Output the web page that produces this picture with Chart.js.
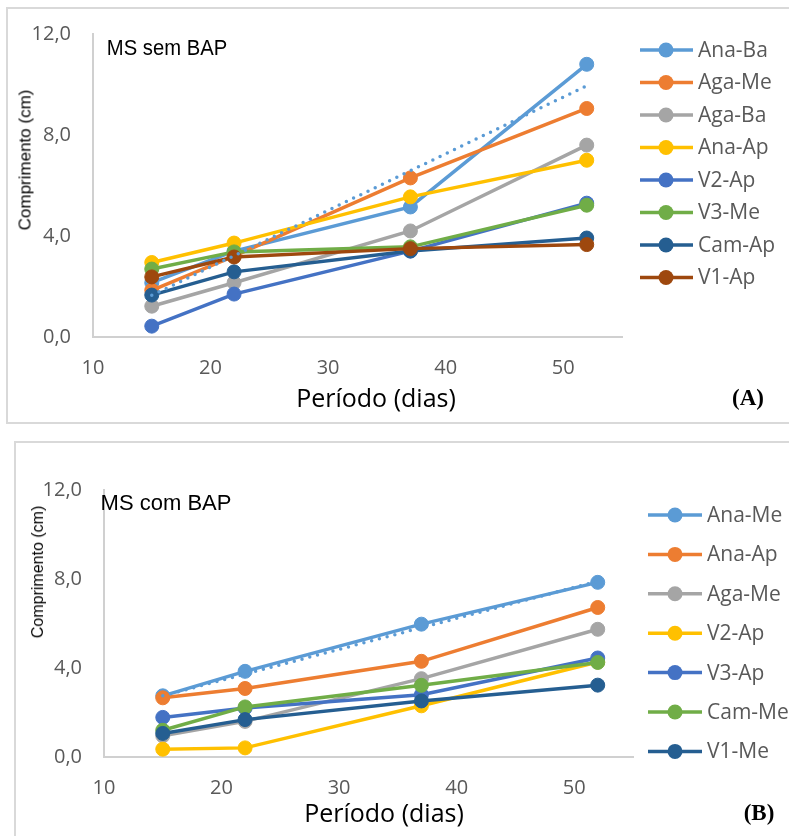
<!DOCTYPE html>
<html><head><meta charset="utf-8">
<script src="https://cdn.jsdelivr.net/npm/chart.js@4"></script>
<style>
html,body{margin:0;padding:0;background:#fff;width:789px;height:836px;overflow:hidden;position:relative}
.frame{position:absolute;border:2px solid #d9d9d9;box-sizing:border-box}
.cw{position:absolute;left:0}
.t{position:absolute;white-space:nowrap;transform:translate(-50%,-50%);line-height:1}
.ms{font-family:'Liberation Sans',Arial,sans-serif;font-size:22px;color:#000}
.xt{font-family:'Open Sans',sans-serif;font-size:25px;color:#000}
.yt{font-family:'Liberation Sans',Arial,sans-serif;color:#000}
.pl{font-family:'Liberation Serif','Times New Roman',serif;font-weight:bold;font-size:23px;color:#000}
</style></head><body>
<div class="frame" style="left:6px;top:7px;width:800px;height:417px"></div>
<div class="frame" style="left:14px;top:441px;width:800px;height:420px"></div>
<div class="cw" style="top:0"><canvas id="cA" width="789" height="430"></canvas></div>
<div class="cw" style="top:430px"><canvas id="cB" width="789" height="406"></canvas></div>

<div class="t ms" style="left:167px;top:48px;transform:translate(-50%,-50%) scaleX(0.92)">MS sem BAP</div>
<div class="t xt" style="left:376px;top:397px">Período (dias)</div>
<div class="t yt" style="left:25px;top:160px;font-size:17px;transform:translate(-50%,-50%) rotate(-90deg)">Comprimento (cm)</div>
<div class="t pl" style="left:748px;top:397px">(A)</div>

<div class="t ms" style="left:166px;top:503px">MS com BAP</div>
<div class="t xt" style="left:384px;top:812px">Período (dias)</div>
<div class="t yt" style="left:38px;top:572px;font-size:16px;transform:translate(-50%,-50%) rotate(-90deg)">Comprimento (cm)</div>
<div class="t pl" style="left:759px;top:812px">(B)</div>

<script>
// ---------- data ----------
const periodo = [15, 22, 37, 52];
const xTicks = [10, 20, 30, 40, 50];
const yTickValues = [0, 4, 8, 12];
const yTickLabels = ['0,0', '4,0', '8,0', '12,0'];

// Panel A: MS sem BAP
const labelsA = ['Ana-Ba', 'Aga-Me', 'Aga-Ba', 'Ana-Ap', 'V2-Ap', 'V3-Me', 'Cam-Ap', 'V1-Ap'];
const anaBaA = [2.15, 3.4, 5.15, 10.8];
const agaMeA = [1.85, 3.2, 6.3, 9.05];
const agaBaA = [1.22, 2.15, 4.2, 7.6];
const anaApA = [2.95, 3.72, 5.55, 7.0];
const v2ApA  = [0.43, 1.7, 3.4, 5.3];
const v3MeA  = [2.69, 3.37, 3.57, 5.22];
const camApA = [1.66, 2.58, 3.41, 3.92];
const v1ApA  = [2.38, 3.17, 3.5, 3.66];
const trendXA = [15, 52];
const trendA  = [1.65, 9.95];

// Panel B: MS com BAP
const labelsB = ['Ana-Me', 'Ana-Ap', 'Aga-Me', 'V2-Ap', 'V3-Ap', 'Cam-Me', 'V1-Me'];
const anaMeB = [2.75, 3.85, 5.97, 7.85];
const anaApB = [2.66, 3.08, 4.3, 6.72];
const agaMeB = [0.95, 1.6, 3.52, 5.74];
const v2ApB  = [0.35, 0.41, 2.3, 4.27];
const v3ApB  = [1.78, 2.2, 2.8, 4.45];
const camMeB = [1.2, 2.25, 3.22, 4.25];
const v1MeB  = [1.06, 1.68, 2.52, 3.23];
const trendXB = [15, 52];
const trendB  = [2.75, 7.9];

const palette = ['#5B9BD5', '#ED7D31', '#A5A5A5', '#FFC000', '#4472C4', '#70AD47', '#255E91', '#9E480E'];

// ---------- helpers ----------
function pts(xs, ys) { return xs.map((x, i) => ({ x: x, y: ys[i] })); }

function seriesDatasets(labels, arrays) {
  return labels.map((lab, i) => ({
    label: lab,
    data: pts(periodo, arrays[i]),
    borderColor: palette[i],
    backgroundColor: palette[i],
    borderWidth: 3.5,
    pointRadius: 7,
    pointBorderWidth: 1,
    pointHoverRadius: 7,
    pointBackgroundColor: palette[i],
    pointBorderColor: palette[i],
    tension: 0,
    order: -i
  }));
}

function trendDataset(xs, ys) {
  return {
    label: 'trend',
    isTrend: true,
    data: pts(xs, ys),
    borderColor: '#5B9BD5',
    borderWidth: 3.5,
    borderDash: [0, 8],
    borderCapStyle: 'round',
    pointRadius: 0,
    pointHoverRadius: 0,
    order: -100
  };
}

const sideLegend = {
  id: 'sideLegend',
  afterDraw(chart, args, o) {
    const ctx = chart.ctx;
    ctx.save();
    let i = 0;
    chart.data.datasets.forEach(ds => {
      if (ds.isTrend) return;
      const y = o.y0 + i * o.dy;
      ctx.strokeStyle = ds.borderColor;
      ctx.lineWidth = 3.5;
      ctx.lineCap = 'butt';
      ctx.beginPath(); ctx.moveTo(o.x1, y); ctx.lineTo(o.x2, y); ctx.stroke();
      ctx.fillStyle = ds.borderColor;
      ctx.beginPath(); ctx.arc(o.cx, y, 7.5, 0, Math.PI * 2); ctx.fill();
      ctx.fillStyle = '#595959';
      ctx.font = '21px "Open Sans"';
      ctx.textBaseline = 'middle';
      ctx.textAlign = 'left';
      ctx.fillText(ds.label, o.tx, y + 1);
      i++;
    });
    ctx.restore();
  }
};

function makeOptions(L) {
  const tickFont = { family: 'Open Sans', size: 20 };
  return {
    responsive: false,
    animation: false,
    events: [],
    layout: { padding: { left: 0, right: L.padRight, top: L.padTop, bottom: L.padBottom } },
    plugins: {
      legend: { display: false },
      tooltip: { enabled: false },
      sideLegend: L.legend
    },
    scales: {
      x: {
        type: 'linear', min: 10, max: 55,
        afterBuildTicks: s => { s.ticks = xTicks.map(v => ({ value: v })); },
        afterFit: s => { s.height = L.xH; },
        grid: { display: false, drawTicks: false },
        border: { display: true, color: '#d0d0d0', width: 2 },
        ticks: { padding: L.xPad, color: '#595959', font: tickFont, callback: v => String(v) }
      },
      y: {
        type: 'linear', min: 0, max: 12,
        afterBuildTicks: s => { s.ticks = yTickValues.map(v => ({ value: v })); },
        afterFit: s => { s.width = L.yW; },
        grid: { display: false, drawTicks: false },
        border: { display: true, color: '#d0d0d0', width: 2 },
        ticks: { padding: 22, color: '#595959', font: tickFont, callback: (v, i) => yTickLabels[i] }
      }
    }
  };
}

// ---------- charts ----------
new Chart(document.getElementById('cA'), {
  type: 'line',
  data: {
    datasets: seriesDatasets(labelsA, [anaBaA, agaMeA, agaBaA, anaApA, v2ApA, v3MeA, camApA, v1ApA])
      .concat([trendDataset(trendXA, trendA)])
  },
  options: makeOptions({
    padRight: 167, padTop: 33, padBottom: 53, xH: 40, yW: 93, xPad: 19,
    legend: { x1: 640, x2: 693, cx: 666, tx: 698, y0: 50, dy: 32.5 }
  }),
  plugins: [sideLegend]
});

new Chart(document.getElementById('cB'), {
  type: 'line',
  data: {
    datasets: seriesDatasets(labelsB, [anaMeB, anaApB, agaMeB, v2ApB, v3ApB, camMeB, v1MeB])
      .concat([trendDataset(trendXB, trendB)])
  },
  options: makeOptions({
    padRight: 156, padTop: 60, padBottom: 39, xH: 40, yW: 104, xPad: 19,
    legend: { x1: 648, x2: 702, cx: 675, tx: 707, y0: 85, dy: 39.4 }
  }),
  plugins: [sideLegend]
});
</script>
</body></html>
